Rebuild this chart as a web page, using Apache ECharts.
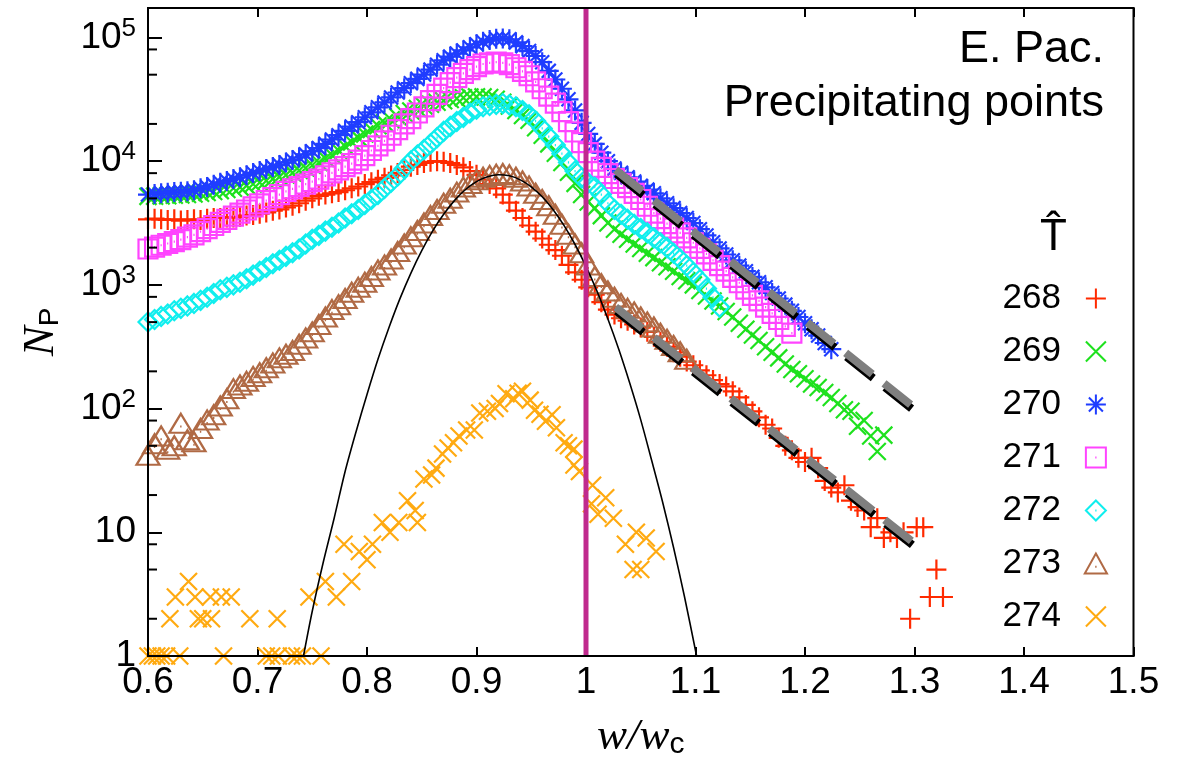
<!DOCTYPE html>
<html>
<head>
<meta charset="utf-8">
<script src="https://cdn.jsdelivr.net/npm/echarts@6/dist/echarts.min.js"></script>
<style>
  html, body { margin: 0; padding: 0; background: #fff; }
  #chart { width: 1182px; height: 765px; }
</style>
</head>
<body>
<div id="chart"></div>
<script>
// ---- data: number of precipitating points N_P versus w/w_c, one array per T-hat bin ----
const T_BINS = ['268', '269', '270', '271', '272', '273', '274'];
const W_START = 0.6;     // first bin centre of w/w_c
const W_STEP = 0.006;    // bin width of w/w_c

const n268 = [
  3390, 3430, 3390, 3350, 3390, 3310, 3350, 3390, 3350, 3430,
  3470, 3470, 3510, 3510, 3550, 3630, 3670, 3760, 3850, 3980,
  4070, 4220, 4370, 4570, 4790, 5010, 5250, 5370, 5500, 5620,
  5820, 6030, 6240, 6530, 6760, 7080, 7330, 7670, 8040, 8510,
  9020, 9330, 9660, 9890, 10000, 9890, 9660, 9330, 8910, 8320,
  7760, 7080, 6530, 6030, 5370, 4620, 3980, 3470, 3020, 2690,
  2370, 2110, 1910, 1720, 1450, 1260, 1100, 955, 832, 724,
  631, 575, 537, 513, 479, 452, 417, 380, 347, 316,
  285, 263, 240, 224, 204, 186, 170, 158, 151, 138,
  123, 107, 95, 85, 74, 69, 58, 50, 46, 40,
  37, 40, 33, 26, 23, 21, 24, 18, 16, 15,
  11, 13, 9, 10, 9, 10, 2, 11, 11, 3,
  5, 3
];
const n269 = [
  5190, 5210, 5240, 5260, 5300, 5330, 5370, 5430, 5510, 5580,
  5680, 5780, 5900, 6030, 6170, 6340, 6530, 6730, 6950, 7190,
  7460, 7730, 8040, 8410, 8810, 9270, 9770, 10500, 11200, 12200,
  13200, 14300, 15500, 16600, 18000, 19300, 20400, 21600, 22900, 24300,
  25400, 26600, 27900, 28800, 29900, 30800, 31500, 32100, 32600, 33000,
  33100, 33100, 32700, 31600, 29900, 27900, 25700, 23400, 21400, 18600,
  16200, 13800, 11600, 9770, 8130, 6610, 5370, 4680, 4170, 3630,
  3160, 2820, 2570, 2340, 2140, 1970, 1800, 1660, 1510, 1400,
  1290, 1170, 1080, 1000, 902, 813, 741, 676, 610, 550,
  490, 437, 394, 355, 316, 285, 257, 229, 207, 191,
  174, 158, 148, 135, 123, 110, 98, 95, 72, 80,
  60, 45, 61
];
const n270 = [
  5370, 5430, 5500, 5560, 5620, 5660, 5710, 5820, 6030, 6170,
  6460, 6680, 6920, 7160, 7410, 7710, 8020, 8320, 8650, 8990,
  9330, 9770, 10230, 10700, 11350, 12020, 12740, 13800, 14960, 16220,
  17580, 19050, 20650, 22650, 24830, 27230, 29850, 32730, 35890, 38900,
  42660, 46240, 50120, 54950, 60260, 65310, 69980, 74130, 78520, 83180,
  88100, 92260, 95500, 97700, 98200, 96600, 91200, 85100, 77600, 70800,
  63100, 53700, 45700, 38500, 31600, 25700, 20400, 16600, 13800, 11700,
  10000, 8710, 8040, 7410, 6840, 6310, 5890, 5500, 5010, 4570,
  4170, 3800, 3470, 3160, 2820, 2510, 2210, 1970, 1760, 1580,
  1430, 1290, 1160, 1050, 955, 861, 776, 692, 617, 550,
  490, 437, 389, 339, 302
];
const n271 = [
  1950, 2020, 2090, 2160, 2240, 2320, 2430, 2540, 2690, 2850,
  3020, 3200, 3390, 3590, 3800, 4030, 4270, 4520, 4790, 5070,
  5370, 5690, 5960, 6240, 6530, 6840, 7160, 7590, 8040, 8510,
  9020, 9550, 10200, 11100, 12200, 13300, 14600, 16200, 18000, 20000,
  22100, 24500, 27500, 30900, 34700, 38900, 43200, 47300, 51300, 55000,
  58200, 61000, 62400, 63100, 62400, 60300, 56900, 53100, 49000, 43700,
  38500, 33500, 29500, 25100, 20900, 17200, 14100, 11700, 10000, 8910,
  7940, 7240, 6610, 6100, 5500, 4900, 4320, 3800, 3430, 3130,
  2880, 2630, 2400, 2190, 1970, 1780, 1580, 1430, 1290, 1150,
  1040, 923, 822, 741, 661, 589, 525, 462, 407
];
const n272 = [
  501, 525, 556, 582, 617, 646, 676, 708, 750, 794,
  851, 912, 955, 1000, 1050, 1120, 1200, 1290, 1380, 1480,
  1580, 1700, 1820, 1950, 2140, 2340, 2510, 2720, 2920, 3160,
  3470, 3760, 4070, 4470, 4900, 5370, 6030, 6760, 7590, 8710,
  10000, 11200, 12400, 13800, 15500, 17400, 19100, 20900, 22600, 24500,
  26300, 27500, 28200, 28800, 29200, 28500, 27500, 25700, 23700, 21100,
  18400, 15800, 13500, 11500, 9770, 8320, 7330, 6680, 6170, 5370,
  4570, 4070, 3720, 3390, 3090, 2850, 2630, 2400, 2190, 2000,
  1800, 1620, 1430, 1260, 1100, 933, 794, 661
];
const n273 = [
  42, 52, 60, 47, 50, 76, 56, 54, 69, 81,
  89, 105, 120, 145, 155, 166, 182, 195, 214, 234,
  257, 275, 295, 331, 372, 417, 479, 550, 631, 692,
  776, 871, 955, 1050, 1170, 1320, 1450, 1620, 1860, 2140,
  2450, 2750, 3160, 3630, 4070, 4570, 5010, 5620, 6170, 6610,
  7080, 7410, 7670, 7850, 7940, 7760, 7410, 6920, 6310, 5500,
  4900, 4370, 3720, 3090, 2570, 2140, 1820, 1450, 1170, 1020,
  891, 794, 708, 646, 603, 550, 501, 457, 407, 363,
  324, 288, 251
];
// the coldest bin is sparse: explicit [w/w_c, N_P] pairs
const n274 = [
  [0.600, 1], [0.604, 1], [0.608, 1], [0.612, 1], [0.617, 1], [0.629, 1], [0.669, 1],
  [0.708, 1], [0.713, 1], [0.719, 1], [0.731, 1], [0.736, 1], [0.741, 1], [0.758, 1],
  [0.620, 2], [0.646, 2], [0.650, 2], [0.658, 2], [0.693, 2], [0.718, 2],
  [0.625, 3], [0.643, 3], [0.657, 3], [0.667, 3], [0.676, 3], [0.747, 3], [0.772, 3],
  [0.637, 4], [0.762, 4], [0.786, 4],
  [0.779, 8], [0.793, 7], [0.800, 6], [0.805, 8], [0.814, 12], [0.821, 10], [0.829, 12],
  [0.837, 18], [0.844, 15], [0.846, 12], [0.852, 27], [0.859, 29], [0.863, 33], [0.869, 43],
  [0.874, 48], [0.879, 53], [0.884, 60], [0.891, 67], [0.898, 67], [0.903, 92], [0.910, 95],
  [0.917, 100], [0.921, 110], [0.927, 132], [0.934, 120], [0.938, 133], [0.942, 138],
  [0.949, 117], [0.953, 97], [0.958, 90], [0.963, 79], [0.969, 89], [0.973, 70], [0.980, 53],
  [0.984, 50], [0.989, 47], [0.989, 35], [0.994, 31], [1.005, 17], [1.006, 24], [1.011, 14],
  [1.018, 19], [1.025, 13], [1.036, 8], [1.043, 5], [1.046, 10], [1.050, 5], [1.055, 9],
  [1.064, 7]
];

// Gaussian reference curve (thin black line)
const gaussW = [0.742, 0.75, 0.76, 0.77, 0.78, 0.79, 0.80, 0.81, 0.82, 0.83, 0.84, 0.85, 0.86,
  0.87, 0.88, 0.89, 0.90, 0.91, 0.92, 0.93, 0.94, 0.95, 0.96, 0.97, 0.98, 0.99, 1.00, 1.01,
  1.02, 1.03, 1.04, 1.05, 1.06, 1.07, 1.08, 1.09, 1.101];
const gaussN = [1, 2.3, 5.7, 13, 31, 65, 130, 250, 450, 770, 1240, 1890, 2730,
  3720, 4820, 5900, 6830, 7480, 7760, 7610, 7060, 6200, 5150, 4050, 3010, 2120, 1410, 890,
  530, 300, 160, 81, 38, 17.5, 7.5, 3.0, 1];

// exponential tail fits (thick dashed lines), end points
const fitUpper = [[1.027, 8500], [1.298, 105]];
const fitLower = [[1.027, 660], [1.298, 8.4]];

// critical value w = w_c
const W_CRIT = 1.0;

// axis ranges and tick values
const X_MIN = 0.6, X_MAX = 1.5, X_STEP = 0.1;
const Y_MIN = 1, Y_MAX = 173000;
const Y_MINOR = [2, 5, 8, 20, 50, 80, 200, 500, 800, 2000, 5000, 8000,
  20000, 50000, 80000];

// ---- styling ----
const COLORS = ['#ff2a00', '#1ee11e', '#1f3dff', '#ff44ff', '#10eeee', '#b06a45', '#ffaa11'];
const SYMBOLS = [
  'path://M0,10L20,10M10,0L10,20',
  'path://M0,0L20,20M20,0L0,20',
  'path://M0,10L20,10M10,0L10,20M3,3L17,17M17,3L3,17',
  'path://M0,0L20,0L20,20L0,20Z M9.4,10L10.6,10',
  'path://M10,0L20,10L10,20L0,10Z M9.4,10L10.6,10',
  'path://M10,0L20,18L0,18Z M9.4,12L10.6,12',
  'path://M0,0L20,20M20,0L0,20'
];
const SIZES = [[20, 20], [17, 17], [20, 20], [19, 19], [19, 19], [23, 19], [17, 17]];
const SANS = '"Liberation Sans", Arial, Helvetica, sans-serif';
const SERIF = '"Liberation Serif", "Times New Roman", serif';

function binned(vals) {
  return vals.map((v, i) => [+(W_START + i * W_STEP).toFixed(3), v]);
}
const seriesData = [binned(n268), binned(n269), binned(n270), binned(n271),
  binned(n272), binned(n273), n274];

const series = seriesData.map((d, k) => ({
  name: T_BINS[k],
  type: 'scatter',
  data: d,
  symbol: SYMBOLS[k],
  symbolSize: SIZES[k],
  z: 2,
  itemStyle: { color: 'rgba(0,0,0,0)', borderColor: COLORS[k], borderWidth: 2.2, opacity: 1 },
  emphasis: { disabled: true }
}));

series.push({
  type: 'line', data: gaussW.map((w, i) => [w, gaussN[i]]),
  showSymbol: false, smooth: 0.3, z: 4, silent: true,
  lineStyle: { color: '#000', width: 1.6 }
});
[fitUpper, fitLower].forEach(f => series.push({
  type: 'line', data: f, showSymbol: false, z: 5, silent: true,
  lineStyle: {
    color: '#7f7f7f', width: 8, type: [34, 15], cap: 'butt',
    shadowColor: '#000', shadowOffsetX: 1, shadowOffsetY: 4, shadowBlur: 0
  }
}));
series.push({
  type: 'line', data: [[W_CRIT, Y_MIN], [W_CRIT, Y_MAX]],
  showSymbol: false, z: 6, silent: true,
  lineStyle: { color: '#c02a8e', width: 5 }
});
// minor ticks of the log axis at 2, 5 and 8 of each decade
series.push({
  type: 'custom', data: Y_MINOR.map(v => [X_MIN, v]), z: 7, silent: true, clip: false,
  renderItem: (params, api) => {
    const p = api.coord([api.value(0), api.value(1)]);
    return { type: 'line', shape: { x1: p[0], y1: p[1], x2: p[0] + 9, y2: p[1] },
      style: { stroke: '#000', lineWidth: 2 } };
  }
});

const chart = echarts.init(document.getElementById('chart'), null, { renderer: 'canvas' });
chart.setOption({
  animation: false,
  backgroundColor: '#fff',
  grid: { left: 148, right: 48.5, top: 8, bottom: 98, show: true,
    borderColor: '#000', borderWidth: 2, backgroundColor: 'transparent', z: 8 },
  xAxis: [{
    type: 'value', min: X_MIN, max: X_MAX, interval: X_STEP, position: 'bottom',
    axisLine: { show: true, onZero: false, lineStyle: { color: '#000', width: 2 } },
    axisTick: { show: true, inside: true, length: 9, lineStyle: { color: '#000', width: 2 } },
    axisLabel: { color: '#000', fontSize: 37, fontFamily: SANS, margin: 8 },
    splitLine: { show: false },
    name: '{w|w/w}{c|c}', nameLocation: 'middle', nameGap: 52,
    nameTextStyle: { rich: {
      w: { fontFamily: SERIF, fontStyle: 'italic', fontSize: 45, color: '#000', lineHeight: 52, verticalAlign: 'bottom' },
      c: { fontFamily: SANS, fontSize: 30, color: '#000', lineHeight: 38, verticalAlign: 'bottom' }
    } }
  }, {
    type: 'value', min: X_MIN, max: X_MAX, interval: X_STEP, position: 'top',
    axisLine: { show: true, onZero: false, lineStyle: { color: '#000', width: 2 } },
    axisTick: { show: true, inside: true, length: 9, lineStyle: { color: '#000', width: 2 } },
    axisLabel: { show: false }, splitLine: { show: false }
  }],
  yAxis: {
    type: 'log', logBase: 10, min: Y_MIN, max: Y_MAX, interval: 1,
    axisLine: { show: true, onZero: false, lineStyle: { color: '#000', width: 2 } },
    axisTick: { show: true, inside: true, length: 14, lineStyle: { color: '#000', width: 2 } },
    minorTick: { show: false },
    splitLine: { show: false },
    axisLabel: {
      color: '#000', fontSize: 37, fontFamily: SANS, margin: 12, showMaxLabel: false,
      formatter: v => {
        const e = Math.round(Math.log10(v));
        if (e === 0) return '1';
        if (e === 1) return '10';
        return '10{s|' + e + '}';
      },
      rich: { s: { fontSize: 26, fontFamily: SANS, color: '#000', padding: [0, 0, 18, 0] } }
    },
    name: '{n|N}{p|P}', nameLocation: 'middle', nameGap: 84, nameRotate: 90,
    nameTextStyle: { rich: {
      n: { fontFamily: SERIF, fontStyle: 'italic', fontSize: 45, color: '#000', lineHeight: 52, verticalAlign: 'bottom' },
      p: { fontFamily: SANS, fontSize: 28, color: '#000', lineHeight: 36, verticalAlign: 'bottom' }
    } }
  },
  legend: {
    data: T_BINS.map((t, k) => ({ name: t, icon: SYMBOLS[k] })),
    orient: 'vertical', right: 69, top: 276, align: 'right',
    itemWidth: 60, itemHeight: 20, itemGap: 18, selectedMode: false,
    textStyle: { color: '#000', fontSize: 35, fontFamily: SANS }
  },
  graphic: [
    { type: 'text', x: 1104, y: 50, z: 10,
      style: { text: 'E. Pac.', align: 'right', verticalAlign: 'middle', fill: '#000',
        font: '45px ' + SANS } },
    { type: 'text', x: 1104, y: 104, z: 10,
      style: { text: 'Precipitating points', align: 'right', verticalAlign: 'middle', fill: '#000',
        font: '45px ' + SANS } },
    { type: 'text', left: 1040, top: 216, z: 10,
      style: { text: 'T\u0302', fill: '#000', font: '44px ' + SANS } }
  ],
  series: series
});
</script>
</body>
</html>
